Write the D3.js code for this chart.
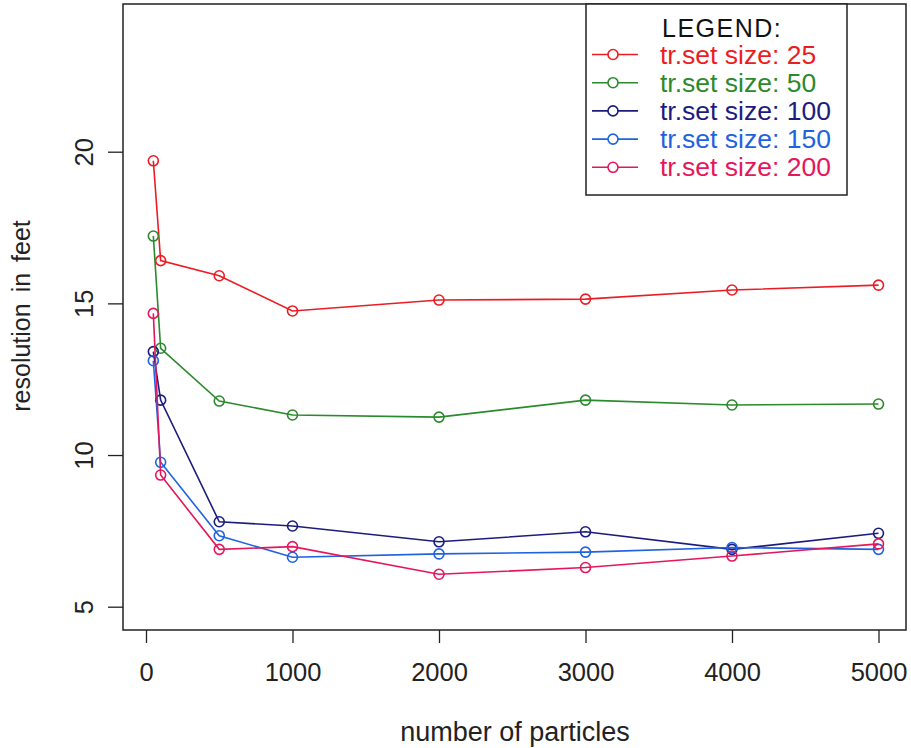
<!DOCTYPE html>
<html><head><meta charset="utf-8">
<script src="https://cdn.jsdelivr.net/npm/d3@7"></script>
<style>body{margin:0;background:#fff}svg{display:block}text{font-family:"Liberation Sans",Arial,sans-serif}</style>
</head><body><svg id="c" width="911" height="748"></svg>
<script>
const particles = [50, 100, 500, 1000, 2000, 3000, 4000, 5000];
const xTicks = [0, 1000, 2000, 3000, 4000, 5000];
const yTicks = [5, 10, 15, 20];
const seriesNames = ["tr.set size: 25", "tr.set size: 50", "tr.set size: 100", "tr.set size: 150", "tr.set size: 200"];
const s25  = [19.70, 16.41, 15.91, 14.75, 15.11, 15.14, 15.44, 15.60];
const s50  = [17.22, 13.52, 11.78, 11.32, 11.25, 11.81, 11.65, 11.68];
const s100 = [13.41, 11.81, 7.80, 7.66, 7.14, 7.47, 6.89, 7.42];
const s150 = [13.11, 9.76, 7.34, 6.63, 6.74, 6.80, 6.95, 6.89];
const s200 = [14.67, 9.34, 6.89, 6.98, 6.07, 6.29, 6.67, 7.07];
const colors = ["#ec1c24", "#2b8a2b", "#1c1c7e", "#1e63e0", "#e6165c"];
const allSeries = [s25, s50, s100, s150, s200];

const svg = d3.select("#c");
const frame = {l: 123, r: 906, t: 4, b: 630};
const x = d3.scaleLinear().domain([0, 5000]).range([146, 878.5]);
const y = d3.scaleLinear().domain([5, 20]).range([606.7, 151.7]);

// axes
const xAxis = d3.axisBottom(x).tickValues(xTicks).tickSize(13).tickPadding(20).tickFormat(d3.format("d"));
const gx = svg.append("g").attr("transform", `translate(0,${frame.b})`).call(xAxis);
gx.select(".domain").remove();
gx.selectAll("line").attr("stroke", "#222").attr("stroke-width", 1.3);
gx.selectAll("text").attr("font-size", 25.5).attr("fill", "#222");

const yAxis = d3.axisLeft(y).tickValues(yTicks).tickSize(15).tickPadding(0).tickFormat(d3.format("d"));
const gy = svg.append("g").attr("transform", `translate(${frame.l},0)`).call(yAxis);
gy.select(".domain").remove();
gy.selectAll("line").attr("stroke", "#222").attr("stroke-width", 1.3);
gy.selectAll("text").attr("font-size", 25.5).attr("fill", "#222")
  .attr("x", null).attr("dy", null)
  .attr("text-anchor", "middle")
  .attr("transform", "translate(-30,0) rotate(-90)");

// frame
svg.append("rect").attr("x", frame.l).attr("y", frame.t)
  .attr("width", frame.r - frame.l).attr("height", frame.b - frame.t)
  .attr("fill", "none").attr("stroke", "#222").attr("stroke-width", 1.5);

// titles
svg.append("text").attr("x", 515).attr("y", 741).attr("text-anchor", "middle")
  .attr("font-size", 27).attr("fill", "#222").text("number of particles");
svg.append("text").attr("transform", "translate(30,316) rotate(-90)").attr("text-anchor", "middle")
  .attr("font-size", 25).attr("fill", "#222").attr("word-spacing", 4).text("resolution in feet");

// series
const line = d3.line().x((d, i) => x(particles[i])).y(d => y(d));
allSeries.forEach((s, k) => {
  const g = svg.append("g");
  g.append("path").attr("d", line(s)).attr("fill", "none").attr("stroke", colors[k]).attr("stroke-width", 1.6);
  g.selectAll("circle").data(s).join("circle")
    .attr("cx", (d, i) => x(particles[i])).attr("cy", d => y(d)).attr("r", 5)
    .attr("fill", "none").attr("stroke", colors[k]).attr("stroke-width", 1.6);
});

// legend
const lg = svg.append("g");
lg.append("rect").attr("x", 586).attr("y", 4).attr("width", 261).attr("height", 191)
  .attr("fill", "#fff").attr("stroke", "#222").attr("stroke-width", 1.5);
lg.append("text").attr("x", 662).attr("y", 37).attr("font-size", 25).attr("fill", "#111")
  .attr("letter-spacing", 1.5).text("LEGEND:");
seriesNames.forEach((n, k) => {
  const yy = 54.5 + k * 28.2;
  lg.append("line").attr("x1", 592).attr("x2", 638).attr("y1", yy).attr("y2", yy)
    .attr("stroke", colors[k]).attr("stroke-width", 1.6);
  lg.append("circle").attr("cx", 613).attr("cy", yy).attr("r", 5)
    .attr("fill", "#fff").attr("stroke", colors[k]).attr("stroke-width", 1.6);
  lg.append("text").attr("x", 660).attr("y", yy + 9).attr("font-size", 26.5)
    .attr("fill", colors[k]).text(n);
});
</script></body></html>
